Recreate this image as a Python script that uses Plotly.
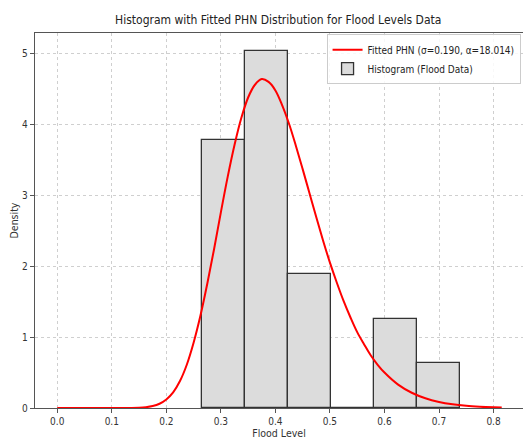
import plotly.graph_objects as go

# histogram of flood levels (density), bins
bin_edges = [0.2656, 0.3443, 0.4231, 0.5018, 0.5806, 0.6594, 0.7381]
density = [3.78, 5.04, 1.89, 0.0, 1.26, 0.63]

# fitted PHN curve
curve_x = [0.0, 0.05, 0.1, 0.125, 0.15, 0.1625, 0.175, 0.1875, 0.2, 0.2125,
           0.225, 0.2375, 0.25, 0.2625, 0.275, 0.2875, 0.3, 0.3125, 0.325,
           0.3375, 0.35, 0.3625, 0.375, 0.3875, 0.4, 0.4125, 0.425, 0.4375,
           0.45, 0.4625, 0.475, 0.4875, 0.5, 0.5125, 0.525, 0.5375, 0.55,
           0.5625, 0.575, 0.5875, 0.6, 0.625, 0.65, 0.675, 0.7, 0.725, 0.75,
           0.775, 0.8, 0.815]
curve_y = [0.0, 0.0, 0.0, 0.0005, 0.004, 0.011, 0.027, 0.060, 0.12, 0.22,
           0.38, 0.61, 0.92, 1.30, 1.75, 2.24, 2.76, 3.26, 3.71,
           4.09, 4.38, 4.56, 4.64, 4.60, 4.48, 4.27, 4.01, 3.70,
           3.37, 3.03, 2.69, 2.36, 2.05, 1.77, 1.51, 1.28, 1.07,
           0.90, 0.74, 0.61, 0.50, 0.33, 0.215, 0.137, 0.085, 0.052, 0.031,
           0.0185, 0.0107, 0.0076]

x_ticks = [0.0, 0.1, 0.2, 0.3, 0.4, 0.5, 0.6, 0.7, 0.8]
y_ticks = [0, 1, 2, 3, 4, 5]

FONT = "DejaVu Sans Condensed, DejaVu Sans"

centers = [(a + b) / 2 for a, b in zip(bin_edges[:-1], bin_edges[1:])]
widths = [b - a for a, b in zip(bin_edges[:-1], bin_edges[1:])]

fig = go.Figure()

fig.add_trace(go.Bar(
    x=centers, y=density, width=widths, name="Histogram (Flood Data)",
    marker=dict(color="#dcdcdc", line=dict(color="#333333", width=1.3)),
    legendrank=2,
))

fig.add_trace(go.Scatter(
    x=curve_x, y=curve_y, mode="lines",
    name="Fitted PHN (σ=0.190, α=18.014)",
    line=dict(color="red", width=2, shape="spline", smoothing=1),
    legendrank=1,
))

axis_common = dict(
    showline=True, linecolor="#555555", linewidth=1.3, mirror=True,
    ticks="outside", ticklen=4, tickcolor="#555555",
    showgrid=True, gridcolor="#cfcfcf", griddash="3px,3px", gridwidth=0.8,
    zeroline=False, automargin=False,
    tickfont=dict(size=10, color="#333333", family=FONT),
    title_font=dict(size=10.5, color="#333333", family=FONT),
)

fig.update_xaxes(
    range=[-0.0408, 0.854], tickvals=x_ticks,
    ticktext=[f"{v:.1f}" for v in x_ticks],
    title_text="Flood Level", title_standoff=2,
    **axis_common,
)
fig.update_yaxes(
    range=[0, 5.29], tickvals=y_ticks,
    title_text="Density", title_standoff=1,
    **axis_common,
)

fig.update_layout(
    width=523, height=441,
    margin=dict(l=35, r=0, t=33, b=33),
    paper_bgcolor="white", plot_bgcolor="white",
    bargap=0,
    title=dict(
        text="Histogram with Fitted PHN Distribution for Flood Levels Data",
        x=0.532, xanchor="center", y=0.955, yanchor="middle",
        font=dict(size=12, color="#222222", family=FONT),
    ),
    legend=dict(
        x=0.995, y=0.997, xanchor="right", yanchor="top",
        bgcolor="rgba(255,255,255,0.85)", bordercolor="#cccccc", borderwidth=1,
        font=dict(size=10, color="#222222", family=FONT),
        tracegroupgap=0, itemwidth=30,
    ),
    showlegend=True,
)

fig.write_html(
    "out.html",
    config={"displayModeBar": False},
    post_script="document.body.style.margin='0';"
                "document.body.style.overflow='hidden';",
)
